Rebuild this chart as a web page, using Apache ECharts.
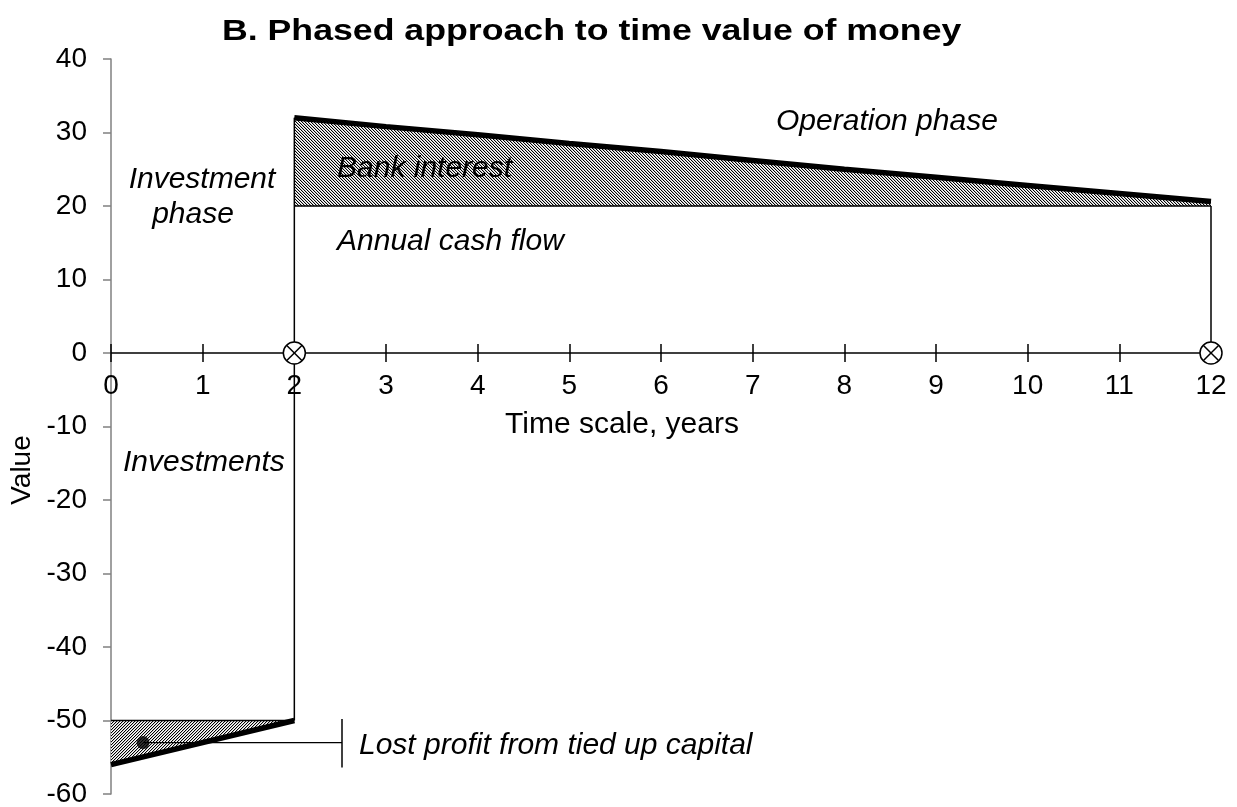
<!DOCTYPE html>
<html>
<head>
<meta charset="utf-8">
<script src="https://cdn.jsdelivr.net/npm/echarts@6/dist/echarts.min.js"></script>
<style>
html,body{margin:0;padding:0;background:#fff;}
#chart{width:1237px;height:807px;}
</style>
</head>
<body>
<div id="chart"></div>
<script>
// ---- data ----
const xTicks = [0,1,2,3,4,5,6,7,8,9,10,11,12];
const yTicks = [-60,-50,-40,-30,-20,-10,0,10,20,30,40];

// investment phase
const invYears = [0, 2];
const invBase = [-50, -50];          // investment amount
const invTotal = [-56, -50];         // investment incl. lost profit
// operation phase
const opYears = [2, 3, 4, 5, 6, 7, 8, 9, 10, 11, 12];
const opCash = [20, 20, 20, 20, 20, 20, 20, 20, 20, 20, 20];            // annual cash flow
const opTotal = [32, 30.8, 29.7, 28.5, 27.4, 26.2, 25.0, 23.9, 22.8, 21.7, 20.6]; // incl. bank interest
// vertical connectors
const stepX = [2, 2];
const stepY = [-50, 32];
const endX = [12, 12];
const endY = [0, 20];
// phase boundary markers
const markerPts = [[2, 0], [12, 0]];
// lost profit pointer
const dotPt = [0.35, -53];
const pointerX = [0.35, 2.52];
const pointerY = [-53, -53];
const bracketX = [2.52, 2.52];
const bracketY = [-49.8, -56.4];

function zip(xs, ys) { return xs.map((x, i) => [x, ys[i]]); }

function makeHatch(dir) {
  const n = 6;
  const c = document.createElement('canvas');
  c.width = n; c.height = n;
  const g = c.getContext('2d');
  g.fillStyle = '#fff'; g.fillRect(0, 0, n, n);
  for (let y = 0; y < n; y++) {
    for (let x = 0; x < n; x++) {
      const k = dir === 'back' ? ((x - y) % 3 + 3) % 3 : (x + y) % 3;
      if (k === 0) { g.fillStyle = '#000'; g.fillRect(x, y, 1, 1); }
      else if (k === 1) { g.fillStyle = '#c4c4c4'; g.fillRect(x, y, 1, 1); }
    }
  }
  return c;
}

function hatchSeries(xs, a, b, dir) {
  const pat = { image: makeHatch(dir), repeat: 'repeat' };
  return {
    type: 'custom', silent: true, z: 1, xAxisIndex: 0, yAxisIndex: 0,
    data: [[xs[0], a[0]]],
    renderItem: function (params, api) {
      const pts = [];
      for (let i = 0; i < xs.length; i++) pts.push(api.coord([xs[i], a[i]]));
      for (let i = xs.length - 1; i >= 0; i--) pts.push(api.coord([xs[i], b[i]]));
      return { type: 'polygon', shape: { points: pts }, style: { fill: pat, stroke: null } };
    }
  };
}

function lineSeries(data, width) {
  return {
    type: 'line', data: data, showSymbol: false, symbol: 'none', silent: true, z: 3,
    xAxisIndex: 0, yAxisIndex: 0,
    lineStyle: { color: '#000', width: width }, animation: false
  };
}

const FONT = 'Liberation Sans, Arial, sans-serif';
const chart = echarts.init(document.getElementById('chart'), null, { renderer: 'canvas' });

const option = {
  animation: false,
  backgroundColor: '#fff',
  grid: [
    { left: 111, right: 26, top: 59, bottom: 13, containLabel: false, outerBoundsMode: 'none' },
    // label band: same horizontal scale, bottom edge sits on the zero line of the main grid
    { left: 111, right: 26, top: 59, height: 294, containLabel: false, outerBoundsMode: 'none' }
  ],
  xAxis: [{
    gridIndex: 0, type: 'value', min: 0, max: 12, interval: 1,
    axisLine: { show: true, onZero: true, lineStyle: { color: '#000', width: 1.5 } },
    axisTick: { show: true, inside: true, length: 9, lineStyle: { color: '#000', width: 1.5 } },
    axisLabel: { show: false },
    splitLine: { show: false }
  }, {
    gridIndex: 1, type: 'value', min: 0, max: 12, interval: 1, position: 'bottom',
    axisLine: { show: false, onZero: false },
    axisTick: { show: true, inside: false, length: 9, lineStyle: { color: '#000', width: 1.5 } },
    axisLabel: { show: true, margin: 19, fontFamily: FONT, fontSize: 28, color: '#000',
      formatter: v => xTicks.indexOf(v) >= 0 ? String(v) : '' },
    splitLine: { show: false }
  }],
  yAxis: [{
    gridIndex: 0, type: 'value', min: -60, max: 40, interval: 10,
    axisLine: { show: true, onZero: false, lineStyle: { color: '#808080', width: 1.5 } },
    axisTick: { show: true, inside: false, length: 8, lineStyle: { color: '#808080', width: 1.5 } },
    axisLabel: { margin: 24, fontFamily: FONT, fontSize: 28, color: '#000',
      formatter: v => yTicks.indexOf(v) >= 0 ? String(v) : '' },
    splitLine: { show: false }
  }, {
    gridIndex: 1, type: 'value', min: 0, max: 40, show: false
  }],
  graphic: [
    { type: 'text', x: 222, y: 17, scaleX: 1.23, scaleY: 1, style: { text: 'B. Phased approach to time value of money', font: 'bold 29px ' + FONT, fill: '#000', verticalAlign: 'top' }, z: 10 },
    { type: 'text', left: 776, top: 107, style: { text: 'Operation phase', font: 'italic 30px ' + FONT, fill: '#000' }, z: 10 },
    { type: 'text', left: 337, top: 154, style: { text: 'Bank interest', font: 'italic 30px ' + FONT, fill: '#000' }, z: 10 },
    { type: 'text', x: 202, y: 165, style: { text: 'Investment', font: 'italic 30px ' + FONT, fill: '#000', align: 'center', verticalAlign: 'top' }, z: 10 },
    { type: 'text', x: 193, y: 200, style: { text: 'phase', font: 'italic 30px ' + FONT, fill: '#000', align: 'center', verticalAlign: 'top' }, z: 10 },
    { type: 'text', left: 337, top: 227, style: { text: 'Annual cash flow', font: 'italic 30px ' + FONT, fill: '#000' }, z: 10 },
    { type: 'text', x: 622, y: 410, style: { text: 'Time scale, years', font: '30px ' + FONT, fill: '#000', align: 'center', verticalAlign: 'top' }, z: 10 },
    { type: 'text', left: 123, top: 448, style: { text: 'Investments', font: 'italic 30px ' + FONT, fill: '#000' }, z: 10 },
    { type: 'text', left: 359, top: 731, style: { text: 'Lost profit from tied up capital', font: 'italic 30px ' + FONT, fill: '#000' }, z: 10 },
    { type: 'text', x: 22, y: 470, rotation: Math.PI / 2, style: { text: 'Value', font: '28px ' + FONT, fill: '#000', align: 'center', verticalAlign: 'middle' }, z: 10 }
  ],
  series: [
    hatchSeries(opYears, opCash, opTotal, 'back'),
    hatchSeries(invYears, invBase, invTotal, 'fwd'),
    lineSeries(zip(opYears, opCash), 1.5),
    lineSeries(zip(opYears, opTotal), 5.5),
    lineSeries(zip(invYears, invBase), 1.5),
    lineSeries(zip(invYears, invTotal), 5.5),
    lineSeries(zip(stepX, stepY), 1.5),
    lineSeries(zip(endX, endY), 1.5),
    lineSeries(zip(pointerX, pointerY), 1.2),
    lineSeries(zip(bracketX, bracketY), 1.5),
    {
      type: 'scatter', data: [dotPt], symbol: 'circle', symbolSize: 13, silent: true, z: 4,
      xAxisIndex: 0, yAxisIndex: 0,
      itemStyle: { color: '#000' }
    },
    {
      type: 'custom', silent: true, z: 5, data: markerPts, xAxisIndex: 0, yAxisIndex: 0,
      renderItem: function (params, api) {
        const p = api.coord([api.value(0), api.value(1)]);
        const r = 11, d = r * 0.707;
        return {
          type: 'group', children: [
            { type: 'circle', shape: { cx: p[0], cy: p[1], r: r }, style: { fill: '#fff', stroke: '#000', lineWidth: 1.5 } },
            { type: 'line', shape: { x1: p[0] - d, y1: p[1] - d, x2: p[0] + d, y2: p[1] + d }, style: { stroke: '#000', lineWidth: 1.5 } },
            { type: 'line', shape: { x1: p[0] - d, y1: p[1] + d, x2: p[0] + d, y2: p[1] - d }, style: { stroke: '#000', lineWidth: 1.5 } }
          ]
        };
      }
    }
  ]
};
chart.setOption(option);
</script>
</body>
</html>
